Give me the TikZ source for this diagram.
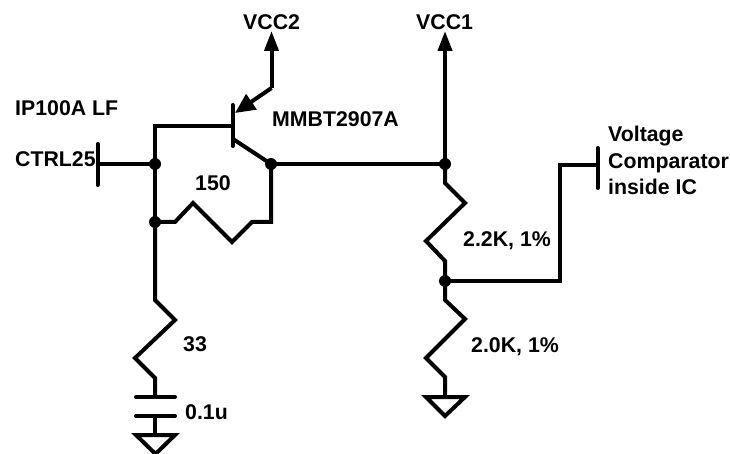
\documentclass[tikz,border=0pt]{standalone}
\usepackage{fontspec}
\setmainfont{Liberation Sans}
\usetikzlibrary{arrows.meta}
\tikzset{
  wire/.style={line width=4pt,line join=miter},
  plate/.style={line width=4pt,line cap=round},
  dotj/.style={circle,fill=black,inner sep=0pt,minimum size=12pt},
  lab/.style={inner sep=0pt,anchor=base west,font=\fontsize{21.3}{25}\selectfont\bfseries,align=left},
  pin/.style={wire,-{Triangle[length=20pt,width=14pt]}},
  gnd/.style={line width=4pt,line join=miter,line cap=round}
}
\begin{document}
\begin{tikzpicture}[x=1pt,y=-1pt]
\useasboundingbox (0,0) rectangle (730,454);
% junctions
\node[dotj] (jc) at (155,164) {};
\node[dotj] (jr) at (155,222) {};
\node[dotj] (je) at (271,164) {};
\node[dotj] (jv) at (445,164) {};
\node[dotj] (jd) at (445,281) {};
% coordinates
\coordinate (vcc2) at (271.5,31);
\coordinate (vcc1) at (445,31);
\coordinate (ebend) at (271.5,88);
\coordinate (etip) at (235,113);
\coordinate (bT) at (232.5,105);
\coordinate (bB) at (232.5,146);
\coordinate (bM) at (232.5,126);
\coordinate (cS) at (233,139);
\coordinate (ctrl) at (97.5,164);
\coordinate (cmp) at (597.5,165);
% supply pins
\draw[pin] (ebend) -- (vcc2);
\draw[pin] (jv.center) -- (vcc1);
% transistor
\draw[plate] (bT) -- (bB);
\draw[wire,-{Triangle[length=20pt,width=18pt]}] (ebend) -- (etip);
\draw[wire] (bM) -- (155,126) -- (jr.center);
\draw[wire] (cS) -- (je.center);
% ctrl
\draw[plate] (97.5,144) -- (97.5,185);
\draw[wire] (ctrl) -- (jc.center);
% net to vcc1 divider
\draw[wire] (je.center) -- (jv.center);
% 150 ohm
\draw[wire] (jr.center) -- (175,222) -- (193,203) -- (232,242) -- (252,222) -- (271,222) -- (je.center);
% 33 ohm and cap
\draw[wire] (jr.center) -- (155,300) -- (175,320) -- (135,358) -- (155,378) -- (155,397);
\draw[plate] (136,397) -- (175,397);
\draw[plate] (136,416) -- (175,416);
\draw[wire] (155,416) -- (155,435);
\draw[gnd] (136,435) -- (175,435) -- (155.5,454) -- cycle;
% divider
\draw[wire] (jv.center) -- (445,183) -- (465,203) -- (426,241) -- (445,261) -- (jd.center);
\draw[wire] (jd.center) -- (445,300) -- (465,319) -- (426,358) -- (445,377) -- (445,397);
\draw[gnd] (426,397) -- (465,397) -- (445,416) -- cycle;
% comparator tap
\draw[wire] (jd.center) -- (559.5,281) -- (559.5,165) -- (cmp);
\draw[plate] (597.5,148) -- (597.5,188);
% labels
\node[lab] (t1) at (243,30) {VCC2};
\node[lab] (t2) at (416,30) {VCC1};
\node[lab] (t3) at (15,116) {IP100A LF};
\node[lab] (t4) at (15,167) {CTRL25};
\node[lab] (t5) at (272,127) {MMBT2907A};
\node[lab] (t6) at (195,191) {150};
\node[lab] (t7) at (183,351) {33};
\node[lab] (t8) at (185,419) {0.1u};
\node[lab] (t9) at (463,247) {2.2K, 1\%};
\node[lab] (t10) at (471,352) {2.0K, 1\%};
\node[lab] (t11) at (608,142) {Voltage};
\node[lab] (t12) at (608,169) {Comparator};
\node[lab] (t13) at (608,195) {inside IC};
\end{tikzpicture}
\end{document}
